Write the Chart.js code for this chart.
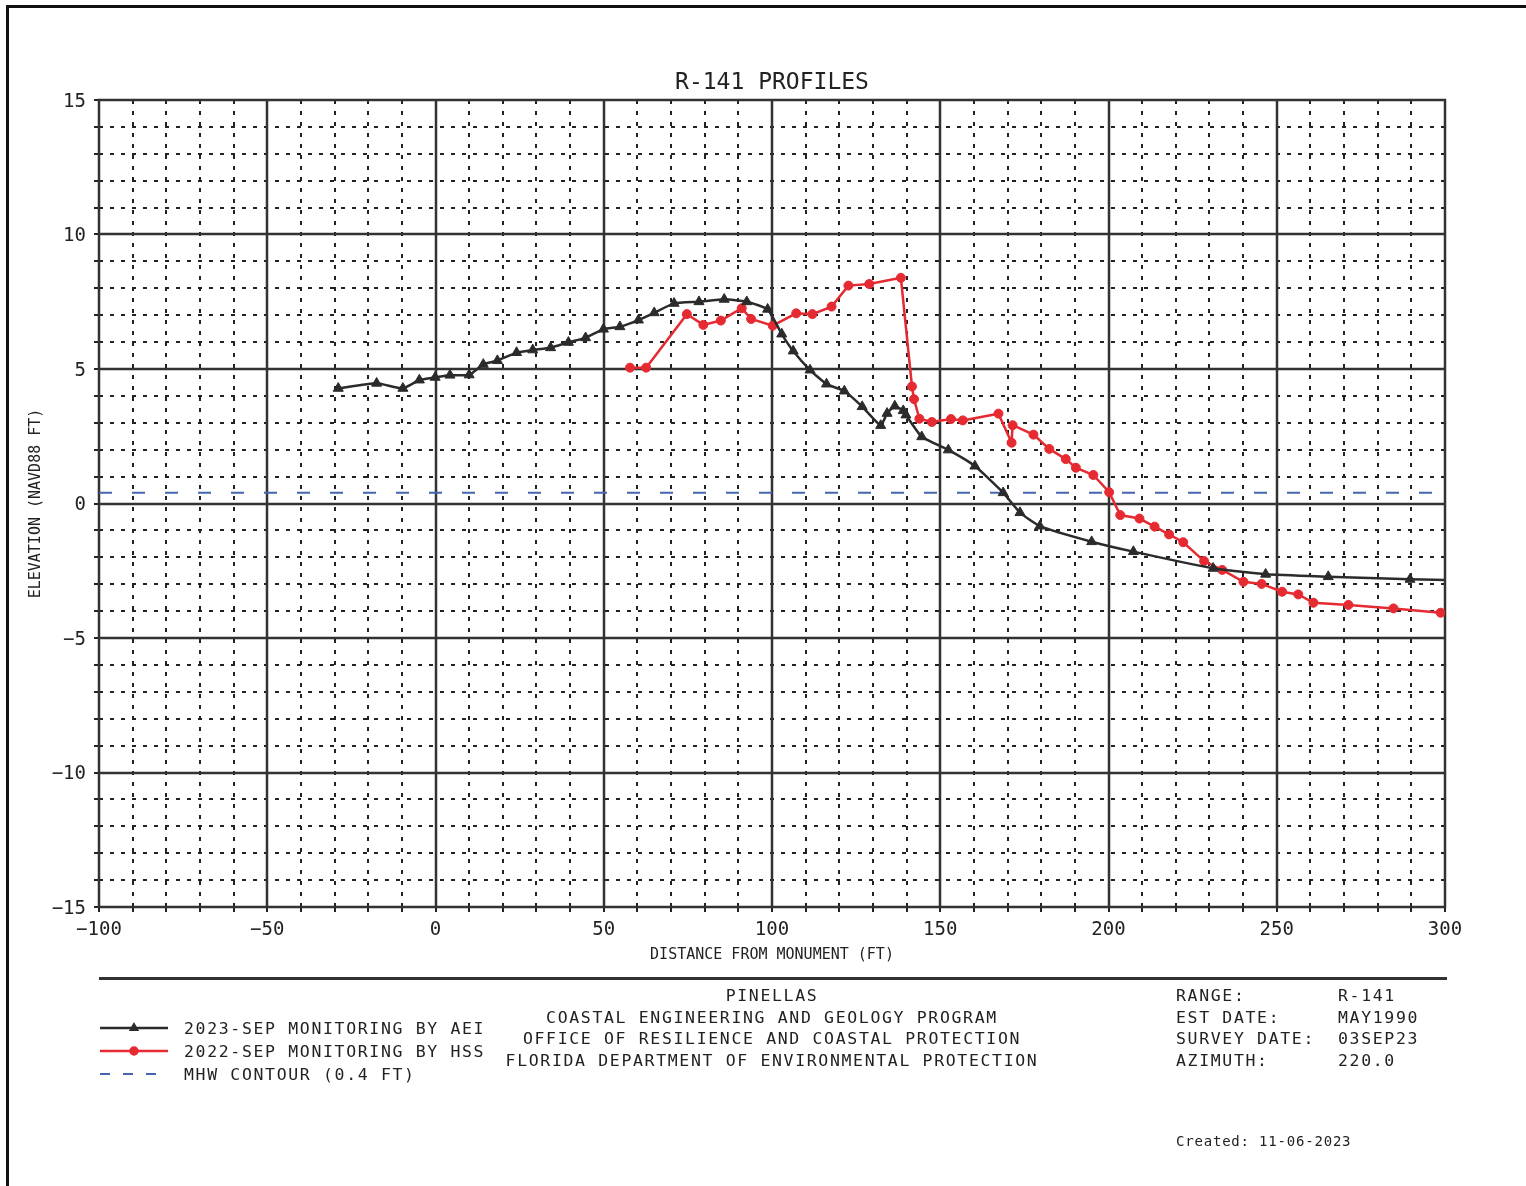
<!DOCTYPE html>
<html>
<head>
<meta charset="utf-8">
<title>R-141 Profiles</title>
<script src="https://cdn.jsdelivr.net/npm/chart.js@4.4.0/dist/chart.umd.min.js"></script>
<style>
  html, body { margin: 0; padding: 0; background: #fff; overflow: hidden; }
  #frame { position: absolute; left: 6px; top: 5px; width: 1540px; height: 1200px; border-left: 3px solid #111; border-top: 3px solid #111; }
  #chart { position: absolute; left: 0; top: 0; }
  #rule { position: absolute; left: 99px; top: 977px; width: 1348px; height: 3px; background: #333; }
  .txt { position: absolute; font-family: "DejaVu Sans Mono", monospace; font-size: 16.5px; letter-spacing: 1.65px; color: #222; white-space: pre; line-height: 21.7px; }
</style>
</head>
<body>
<div id="frame"></div>
<canvas id="chart" width="1526" height="1186"></canvas>
<div id="rule"></div>
<div class="txt" style="left:772px; top:985px; transform:translateX(-50%); text-align:center;">PINELLAS
COASTAL ENGINEERING AND GEOLOGY PROGRAM
OFFICE OF RESILIENCE AND COASTAL PROTECTION
FLORIDA DEPARTMENT OF ENVIRONMENTAL PROTECTION</div>
<div class="txt" style="left:1176px; top:985px;">RANGE:
EST DATE:
SURVEY DATE:
AZIMUTH:</div>
<div class="txt" style="left:1338px; top:985px;">R-141
MAY1990
03SEP23
220.0</div>
<div class="txt" id="legendText" style="left:184px; top:1016.5px; line-height:23px;"></div>
<div class="txt" style="left:1176px; top:1131px; font-size:14px; letter-spacing:0.8px; line-height:20px;">Created: 11-06-2023</div>

<script>
// profile data (distance ft, elevation ft NAVD88)
const aeiDist = [-28.9, -17.5, -9.7, -4.8, -0.1, 4.3, 10.0, 14.2, 18.4, 24.1, 28.9, 34.2, 39.5, 44.6, 49.9, 54.8, 60.3, 65.0, 70.9, 78.3,
                 85.8, 92.5, 98.7, 102.9, 106.3, 111.3, 116.2, 121.5, 126.8, 132.3, 134.2, 136.5, 139.0, 139.8, 144.5, 152.4, 160.3, 168.7,
                 173.7, 179.6, 195.0, 207.4, 231.1, 246.7, 265.3, 289.6, 304];
const aeiElev = [4.28, 4.47, 4.28, 4.59, 4.69, 4.77, 4.78, 5.17, 5.31, 5.61, 5.71, 5.79, 5.99, 6.16, 6.48, 6.57, 6.82, 7.09, 7.44, 7.50,
                 7.59, 7.50, 7.22, 6.30, 5.67, 4.96, 4.44, 4.18, 3.60, 2.90, 3.35, 3.62, 3.45, 3.29, 2.48, 1.99, 1.39, 0.40,
                 -0.34, -0.84, -1.42, -1.79, -2.41, -2.63, -2.72, -2.82, -2.85];

const hssDist = [57.8, 62.6, 74.7, 79.6, 84.8, 91.0, 93.8, 100.2, 107.2, 112.0, 117.7, 122.7, 128.9, 138.3, 141.6, 142.2, 143.8, 147.5,
                 153.2, 156.7, 167.3, 171.2, 171.5, 177.7, 182.4, 187.3, 190.3, 195.5, 200.2, 203.5, 209.2, 213.7, 218.0, 222.2,
                 228.4, 233.8, 240.1, 245.5, 251.6, 256.4, 260.9, 271.3, 284.7, 298.7];
const hssElev = [5.05, 5.05, 7.04, 6.64, 6.80, 7.26, 6.86, 6.61, 7.07, 7.04, 7.32, 8.10, 8.16, 8.39, 4.35, 3.88, 3.15, 3.03,
                 3.14, 3.09, 3.34, 2.26, 2.91, 2.56, 2.03, 1.65, 1.33, 1.06, 0.42, -0.43, -0.56, -0.86, -1.15, -1.44,
                 -2.14, -2.47, -2.91, -2.99, -3.28, -3.38, -3.69, -3.77, -3.90, -4.06];

const mhwDist = [-100, 300];
const mhwElev = [0.4, 0.4];

const xTickValues = [-100, -50, 0, 50, 100, 150, 200, 250, 300];
const yTickValues = [-15, -10, -5, 0, 5, 10, 15];
const legendLabels = ["2023-SEP MONITORING BY AEI", "2022-SEP MONITORING BY HSS", "MHW CONTOUR (0.4 FT)"];

const monoFont = "'DejaVu Sans Mono', monospace";
const inkColor = "#222";

function toPoints(xs, ys) {
    return xs.map((x, i) => ({ x: x, y: ys[i] }));
}

function strokeLine(ctx, x1, y1, x2, y2) {
    ctx.beginPath();
    ctx.moveTo(x1, y1);
    ctx.lineTo(x2, y2);
    ctx.stroke();
}

// dotted minor grid, solid major grid and outside ticks
const profileGrid = {
    id: "profileGrid",
    beforeDatasetsDraw(chart) {
        const ctx = chart.ctx;
        const xs = chart.scales.x, ys = chart.scales.y;
        const a = chart.chartArea;
        ctx.save();
        ctx.lineWidth = 2;
        ctx.strokeStyle = inkColor;
        ctx.setLineDash([4, 7]);
        for (let v = -90; v < 300; v += 10) {
            if (v % 50 === 0) continue;
            const px = Math.round(xs.getPixelForValue(v));
            strokeLine(ctx, px, a.top, px, a.bottom);
        }
        for (let v = -14; v < 15; v++) {
            if (v % 5 === 0) continue;
            const py = Math.round(ys.getPixelForValue(v));
            strokeLine(ctx, a.left, py, a.right, py);
        }
        ctx.setLineDash([]);
        // small ticks outside the plot
        for (let v = -100; v <= 300; v += 10) {
            const px = Math.round(xs.getPixelForValue(v));
            strokeLine(ctx, px, a.bottom, px, a.bottom + 5);
        }
        for (let v = -15; v <= 15; v++) {
            const py = Math.round(ys.getPixelForValue(v));
            strokeLine(ctx, a.left - 5, py, a.left, py);
        }
        ctx.strokeStyle = "#333";
        ctx.lineWidth = 2.5;
        for (let v = -100; v <= 300; v += 50) {
            const px = Math.round(xs.getPixelForValue(v));
            strokeLine(ctx, px, a.top - 1, px, a.bottom + 1);
        }
        for (let v = -15; v <= 15; v += 5) {
            const py = Math.round(ys.getPixelForValue(v));
            strokeLine(ctx, a.left - 1, py, a.right + 1, py);
        }
        ctx.restore();
    }
};

// line samples for the legend under the plot
const legendSamples = {
    id: "legendSamples",
    afterDraw(chart) {
        const ctx = chart.ctx;
        const rows = [1028, 1051, 1074];
        chart.data.datasets.forEach((ds, i) => {
            const y = rows[i];
            ctx.save();
            ctx.strokeStyle = ds.borderColor;
            ctx.lineWidth = ds.borderWidth;
            ctx.setLineDash(ds.borderDash ? [10, 13] : []);
            strokeLine(ctx, 100, y, 168, y);
            ctx.setLineDash([]);
            if (ds.pointRadius > 0) {
                ctx.fillStyle = ds.pointBackgroundColor;
                ctx.strokeStyle = ds.pointBorderColor;
                Chart.helpers.drawPoint(ctx, { pointStyle: ds.pointStyle, radius: 3.5, rotation: 0, borderWidth: 1 }, 134, y);
            }
            ctx.restore();
        });
    }
};

document.getElementById("legendText").textContent = legendLabels.join("\n");

const minusLabel = v => String(v).replace("-", "\u2212");

new Chart(document.getElementById("chart"), {
    type: "line",
    data: {
        datasets: [{
            label: legendLabels[0],
            data: toPoints(aeiDist, aeiElev),
            borderColor: "#2b2b2b",
            borderWidth: 2.5,
            pointStyle: "triangle",
            pointRadius: 5.8,
            pointBackgroundColor: "#2b2b2b",
            pointBorderColor: "#2b2b2b",
            pointBorderWidth: 1,
            tension: 0.15,
            fill: false
        }, {
            label: legendLabels[1],
            data: toPoints(hssDist, hssElev),
            borderColor: "#e62a31",
            borderWidth: 2.5,
            pointStyle: "circle",
            pointRadius: 4.5,
            pointBackgroundColor: "#e62a31",
            pointBorderColor: "#e62a31",
            pointBorderWidth: 1,
            tension: 0,
            fill: false
        }, {
            label: legendLabels[2],
            data: toPoints(mhwDist, mhwElev),
            borderColor: "#4565b0",
            borderWidth: 2,
            borderDash: [13, 20],
            pointRadius: 0,
            fill: false
        }]
    },
    options: {
        responsive: false,
        animation: false,
        events: [],
        layout: { padding: { left: 0, top: 69.4, right: 81, bottom: 222 } },
        plugins: {
            legend: { display: false },
            tooltip: { enabled: false },
            title: {
                display: true,
                text: "R-141 PROFILES",
                fullSize: false,
                color: inkColor,
                font: { family: monoFont, size: 23, weight: "normal" },
                padding: { top: 0, bottom: 3 }
            }
        },
        scales: {
            x: {
                type: "linear",
                min: -100,
                max: 300,
                afterBuildTicks: s => { s.ticks = xTickValues.map(v => ({ value: v })); },
                afterFit: s => { s.height = 57; },
                grid: { display: false, drawTicks: false },
                border: { display: false },
                ticks: { color: inkColor, font: { family: monoFont, size: 19 }, padding: 12, maxRotation: 0, callback: minusLabel },
                title: { display: true, text: "DISTANCE FROM MONUMENT (FT)", color: inkColor, font: { family: monoFont, size: 15 }, padding: 0 }
            },
            y: {
                type: "linear",
                min: -15,
                max: 15,
                afterBuildTicks: s => { s.ticks = yTickValues.map(v => ({ value: v })); },
                afterFit: s => { s.width = 99; },
                grid: { display: false, drawTicks: false },
                border: { display: false },
                ticks: { color: inkColor, font: { family: monoFont, size: 19 }, padding: 13, labelOffset: 2, callback: minusLabel },
                title: { display: true, text: "ELEVATION (NAVD88 FT)", color: inkColor, font: { family: monoFont, size: 15 }, padding: { top: 27, bottom: 0 } }
            }
        }
    },
    plugins: [profileGrid, legendSamples]
});
</script>
</body>
</html>
